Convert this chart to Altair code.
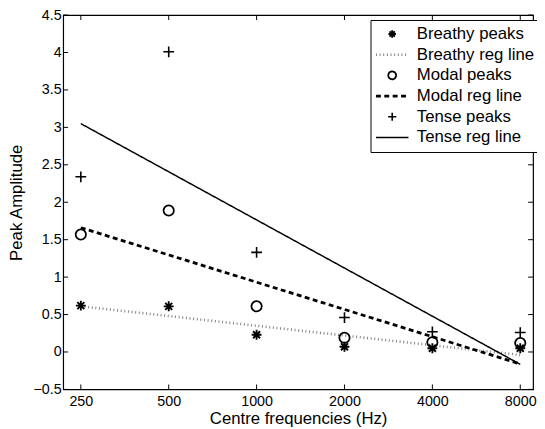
import altair as alt
import pandas as pd

# ---- data ----
freqs = [250, 500, 1000, 2000, 4000, 8000]
breathy_peaks = [0.62, 0.61, 0.23, 0.07, 0.05, 0.05]
modal_peaks = [1.57, 1.89, 0.61, 0.19, 0.13, 0.12]
tense_peaks = [2.34, 4.01, 1.33, 0.46, 0.27, 0.26]

line_freqs = [250, 8000]
breathy_line = [0.61, -0.04]
modal_line = [1.66, -0.16]
tense_line = [3.05, -0.165]

series = ["Breathy peaks", "Breathy reg line", "Modal peaks",
          "Modal reg line", "Tense peaks", "Tense reg line"]
y_ticks = [-0.5, 0, 0.5, 1, 1.5, 2, 2.5, 3, 3.5, 4, 4.5]

# ---- tables ----
pts = pd.DataFrame(
    [{"f": f, "v": v, "s": "Breathy peaks"} for f, v in zip(freqs, breathy_peaks)]
    + [{"f": f, "v": v, "s": "Modal peaks"} for f, v in zip(freqs, modal_peaks)]
    + [{"f": f, "v": v, "s": "Tense peaks"} for f, v in zip(freqs, tense_peaks)]
)
lns = pd.DataFrame(
    [{"f": f, "v": v, "s": "Breathy reg line"} for f, v in zip(line_freqs, breathy_line)]
    + [{"f": f, "v": v, "s": "Modal reg line"} for f, v in zip(line_freqs, modal_line)]
    + [{"f": f, "v": v, "s": "Tense reg line"} for f, v in zip(line_freqs, tense_line)]
)
yt = pd.DataFrame({"v": y_ticks})
xt = pd.DataFrame({"f": freqs})

W, H = 477, 380
FONT = "Liberation Sans"

ast = "M0,-0.23V0.23M-0.23,0H0.23M-0.163,-0.163L0.163,0.163M-0.163,0.163L0.163,-0.163"
circ = "M0.24,0A0.24,0.24,0,1,1,-0.24,0A0.24,0.24,0,1,1,0.24,0Z"
cross = "M-0.25,0H0.25M0,-0.25V0.25"
seg = "M-1,0H1"

leg = alt.Legend(title=None, orient="none", legendX=312, legendY=5,
                 labelFont=FONT, labelFontSize=17, labelColor="black",
                 symbolSize=1089, clipHeight=20.4, rowPadding=0, padding=4,
                 labelOffset=7, strokeColor="black", fillColor="white")

xs = alt.Scale(type="log", base=2, domain=[217.5, 8850], nice=False)
ys = alt.Scale(domain=[-0.5, 4.5], nice=False, zero=False)

xaxis = alt.Axis(values=freqs, format="d", title="Centre frequencies (Hz)",
                 ticks=False, domain=False, grid=False, labelOverlap=False,
                 labelPadding=5, titlePadding=3)
yaxis = alt.Axis(values=y_ticks, format="~g", title="Peak Amplitude",
                 ticks=False, domain=False, grid=False, labelOverlap=False,
                 labelPadding=2, titlePadding=8)

xenc = alt.X("f:Q", scale=xs, axis=xaxis)
yenc = alt.Y("v:Q", scale=ys, axis=yaxis)

color = alt.Color("s:N", scale=alt.Scale(domain=series,
                  range=["black", "#808080", "black", "black", "black", "black"]), legend=leg)
shape = alt.Shape("s:N", scale=alt.Scale(domain=series,
                  range=[ast, seg, circ, seg, cross, seg]), legend=leg)
dash = alt.StrokeDash("s:N", scale=alt.Scale(domain=series,
                      range=[[1, 0], [1, 2.7], [1, 0], [5, 3.5], [1, 0], [1, 0]]), legend=leg)
sw = alt.StrokeWidth("s:N", scale=alt.Scale(type="ordinal", domain=series,
                     range=[1.9, 2.6, 1.8, 2.8, 1.6, 1.5]), legend=leg)

lines = alt.Chart(lns).mark_line(clip=True).encode(
    x=xenc, y=yenc, color=color, strokeDash=dash, strokeWidth=sw, detail="s:N")
points = alt.Chart(pts).mark_point(size=1900, filled=False, opacity=1).encode(
    x=xenc, y=yenc, color=color, shape=shape, strokeWidth=sw)

ytl = alt.Chart(yt).mark_rule(color="black", strokeWidth=1).encode(
    y=yenc, x=alt.value(0), x2=alt.value(5))
ytr = alt.Chart(yt).mark_rule(color="black", strokeWidth=1).encode(
    y=yenc, x=alt.value(W - 5), x2=alt.value(W))
xtb = alt.Chart(xt).mark_rule(color="black", strokeWidth=1).encode(
    x=xenc, y=alt.value(H - 5), y2=alt.value(H))
xtt = alt.Chart(xt).mark_rule(color="black", strokeWidth=1).encode(
    x=xenc, y=alt.value(0), y2=alt.value(5))

chart = alt.layer(lines, points, ytl, ytr, xtb, xtt).properties(
    width=W, height=H,
    background="white",
    autosize=alt.AutoSizeParams(type="none"),
    padding={"left": 56, "top": 4, "right": 4, "bottom": 37},
).configure_view(stroke="black", strokeWidth=1.2).configure_axis(
    labelFont=FONT, labelFontSize=14.5, labelColor="black",
    titleFont=FONT, titleFontSize=17, titleFontWeight="normal", titleColor="black",
)

chart.save("out.html", embed_options={"renderer": "svg", "actions": False})
